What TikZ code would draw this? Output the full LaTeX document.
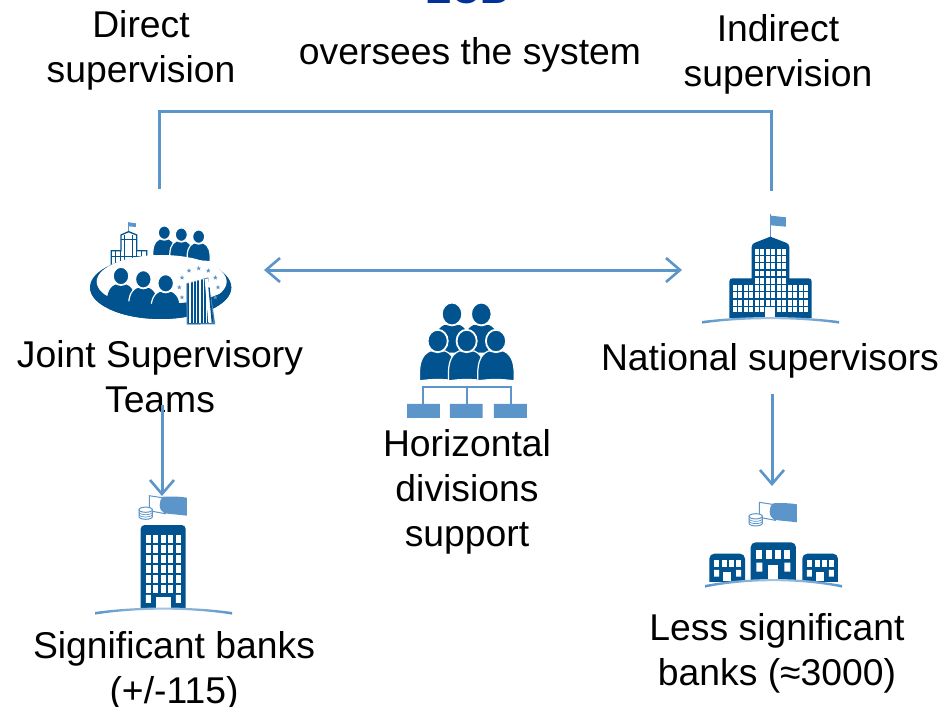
\documentclass[tikz,border=0pt]{standalone}
\usepackage{fontspec}
\setmainfont{Liberation Sans}
\usetikzlibrary{arrows.meta}
\definecolor{dkb}{HTML}{00538F}
\definecolor{ltb}{HTML}{5B95C9}
\definecolor{ecb}{HTML}{003299}
\tikzset{
  lbl/.style={inner sep=0pt,align=center,text=black,font=\fontsize{37.3}{45}\selectfont,anchor=base},
  conn/.style={draw=ltb,line width=3pt},
  arr/.style={conn,-{Straight Barb[length=14pt,width=24pt,line width=2.6pt]}},
  dbl/.style={conn,{Straight Barb[length=14pt,width=24pt,line width=2.6pt]}-{Straight Barb[length=14pt,width=24pt,line width=2.6pt]}},
}
% person: head centre (#1,#2), scale #3
\newcommand\perso[3]{\begin{scope}[shift={(#1,#2)},scale=#3]
 \path[fill=dkb,draw=white,line width=1.2pt] (-19,42) .. controls (-20,26) and (-18,15) .. (-8,10.5) -- (8,10.5) .. controls (18,15) and (20,26) .. (19,42) .. controls (6,40) and (-6,40) .. (-19,42) -- cycle;
 \path[fill=dkb,draw=white,line width=1.8pt] (0,0) ellipse [x radius=10.6,y radius=11.8];
\end{scope}}
\newcommand\ground[4]{\path[left color=ltb,right color=ltb,middle color=ltb!55] (#1,#3) .. controls ({#1+(#2-#1)*.3},{#3-(#3-#4)*1.33}) and ({#2-(#2-#1)*.3},{#3-(#3-#4)*1.33}) .. (#2,#3) -- (#2,#3+2.6) .. controls ({#2-(#2-#1)*.3},{#3-(#3-#4)*1.33+2}) and ({#1+(#2-#1)*.3},{#3-(#3-#4)*1.33+2}) .. (#1,#3+2.6) -- cycle;}
\newcommand\money[2]{\begin{scope}[shift={(#1,#2)}]
 \draw[ltb,line width=1pt,fill=white] (0,0) -- (0,15) -- (16,18) -- (16,2.5) -- cycle;
 \fill[ltb] (14,1) .. controls (24,0.5) and (32,1) .. (37.5,2) -- (37.5,20) .. controls (30,19) and (22,18.5) .. (15,17.5) .. controls (9,15) and (9,4) .. (14,1) -- cycle;
 \begin{scope}[shift={(-3.6,14)}]
 \draw[ltb,line width=1pt,fill=white] (-6.7,0) -- (-6.7,7) arc[start angle=180,end angle=0,x radius=6.7,y radius=2.6] -- (6.7,0);
 \draw[ltb,line width=1pt,fill=white] (0,0) ellipse [x radius=6.7,y radius=2.6];
 \draw[ltb,line width=.7pt] (-6.7,2.4) arc[start angle=180,end angle=0,x radius=6.7,y radius=2.6];
 \draw[ltb,line width=.7pt] (-6.7,4.7) arc[start angle=180,end angle=0,x radius=6.7,y radius=2.6];
 \end{scope}
\end{scope}}
\newcommand\starr[2]{\fill[ltb] (#1+0,#2-2.8) -- (#1+.7,#2-.9) -- (#1+2.7,#2-.9) -- (#1+1.1,#2+.35) -- (#1+1.7,#2+2.3) -- (#1,#2+1.1) -- (#1-1.7,#2+2.3) -- (#1-1.1,#2+.35) -- (#1-2.7,#2-.9) -- (#1-.7,#2-.9) -- cycle;}
\begin{document}
\begin{tikzpicture}[x=1pt,y=-1pt]
\useasboundingbox (0,0) rectangle (943,707);
\fill[white] (0,0) rectangle (943,707);
% anchors for connectors
\coordinate (jstUp) at (159,189);
\coordinate (ctrlA) at (159,111);
\coordinate (ctrlB) at (771,111);
\coordinate (natUp) at (771,191);
\coordinate (jstSide) at (264,270);
\coordinate (natSide) at (682,270);
\coordinate (jstDown) at (162,405);
\coordinate (sigTop) at (162,496);
\coordinate (natDown) at (772,394);
\coordinate (lessTop) at (772,486);
% labels
\node[lbl,text=ecb,font=\bfseries\fontsize{39.5}{45}\selectfont] (ecbT) at (467,3.5) {ECB};
\node[lbl] (over) at (470,64) {oversees the system};
\node[lbl] (direct) at (141,82) {Direct\\supervision};
\node[lbl] (indirect) at (778,86) {Indirect\\supervision};
\node[lbl] (jst) at (160,412) {Joint Supervisory\\Teams};
\node[lbl] (nat) at (770,370) {National supervisors};
\node[lbl] (hor) at (467,546) {Horizontal\\divisions\\support};
\node[lbl] (sig) at (174,703) {Significant banks\\(+/-115)};
\node[lbl] (less) at (777,685) {Less significant\\banks (≈3000)};
% connectors
\draw[conn] (jstUp) -- (ctrlA) -- (ctrlB) -- (natUp);
\draw[dbl] (jstSide) -- (natSide);
\draw[arr] (jstDown) -- (sigTop);
\draw[arr] (natDown) -- (lessTop);
% ===== JST icon
\begin{scope}[shift={(70,200)},scale=.3333]
 % small building
 \draw[ltb,line width=1pt] (176,65) -- (176,95);
 \fill[ltb] (177,67) -- (198,70) -- (198,81) -- (177,79) -- cycle;
 \draw[dkb,line width=1.3pt,fill=white] (124,197) -- (124,152) -- (153,152) -- (153,105) -- (176,95) -- (200,105) -- (200,152) -- (230,152) -- (230,197) -- cycle;
 \draw[dkb,line width=1pt] (153,118) -- (200,118) (124,170) -- (230,170) (153,152) -- (153,197) (200,152) -- (200,197) (138,152) -- (138,197) (216,152) -- (216,197) (165,105) -- (165,197) (188,105) -- (188,197);
 % back persons
 \perso{283}{98}{1.8}
 \perso{334}{104}{1.8}
 \perso{386}{110}{1.8}
 % table
 \fill[dkb] (272,262) ellipse [x radius=212,y radius=95];
 \fill[white] (275,245) ellipse [x radius=195,y radius=80];
 % front persons
 \perso{153}{228}{2.3}
 \perso{220}{238}{2.3}
 \perso{287}{250}{2.3}
 % table front, merging with the bodies
 \fill[dkb] (60,262) arc[start angle=180,end angle=0,x radius=212,y radius=95] .. controls (440,295) and (360,312) .. (272,312) .. controls (190,312) and (105,295) .. (60,262) -- cycle;
 % stars
 \foreach \sx/\sy in {357/212,386/205,415/212,436/233,444/262,436/292,336/233,328/262,336/292}{\begin{scope}[shift={(\sx,\sy)},scale=2.6]\starr{0}{0}\end{scope}}
 % tower
 \fill[ltb] (349,250) -- (415,232) -- (436,373) -- (350,374) -- cycle;
 \fill[dkb] (352,252) -- (414,235) -- (433,370) -- (353,371) -- cycle;
 \foreach \tx in {360,370,380,390,400,410,420}{\draw[white,line width=1.2pt] (\tx,238) -- (\tx,370);}
 \fill[white] (404,238) -- (415,235) -- (431,368) -- (415,368) -- cycle;
 \fill[dkb] (415,262) -- (419,262) -- (431,368) -- (425,368) -- cycle;
\end{scope}
% ===== National supervisor building
\begin{scope}[shift={(690,200)},scale=.3333]
 \draw[ltb,line width=1.6pt] (241,42) -- (241,110);
 \fill[ltb] (243,47) -- (288,52) -- (288,80) -- (243,76) -- cycle;
 \fill[dkb] (118,354) [rounded corners=3pt] -- (118,235) [sharp corners] -- (185,235) [rounded corners=3pt] -- (185,132) [sharp corners] -- (241,110) [rounded corners=3pt] -- (298,132) [sharp corners] -- (298,235) [rounded corners=3pt] -- (365,235) [sharp corners] -- (365,354) -- cycle;
 \foreach \cx in {195,210,228,243,261,276}{\foreach \cy in {148,168,190,212,234}{\fill[white] (\cx,\cy) rectangle +(12,17);}}
 \foreach \cx in {128,143,162,177,195,210,228,243,261,276,295,310,328,343}{\foreach \cy in {255,277,300,320}{\fill[white] (\cx,\cy) rectangle +(12,17);}}
 \fill[white] (225,320) rectangle (255,350);
\end{scope}
\ground{702}{839}{321}{317}
% ===== Horizontal divisions
\begin{scope}[shift={(390,295)},scale=.3333]
 \perso{186}{57}{2.9}
 \perso{274}{57}{2.9}
 \perso{143}{138}{2.85}
 \perso{230}{138}{2.85}
 \perso{318}{138}{2.85}
 \draw[ltb,line width=2pt] (100,327) -- (100,277) -- (362,277) -- (362,327) (231,277) -- (231,327);
 \fill[ltb] (51,327) rectangle (150,369) (180,327) rectangle (278,369) (312,327) rectangle (411,369);
\end{scope}
% ===== Significant bank
\money{149.3}{495.7}
\begin{scope}[shift={(85,480)},scale=.3333]
 \fill[dkb] (167,385) [rounded corners=4pt] -- (167,135) -- (302,135) [sharp corners] -- (302,385) -- cycle;
 \foreach \cx in {183,204,228,249,273}{\foreach \cy in {164,194,224,254,285,315}{\fill[white] (\cx,\cy) rectangle +(15,24);}}
 \fill[white] (183,345) rectangle +(15,24) (273,345) rectangle +(15,24);
 \fill[white] (213,350) rectangle (258,385);
\end{scope}
\ground{95}{232}{612}{607.5}
% ===== Less significant banks
\money{759.3}{502.3}
\begin{scope}[shift={(695,490)},scale=.3333]
 \fill[dkb] (167,272) [rounded corners=5pt] -- (167,157) -- (303,157) [sharp corners] -- (303,272) -- cycle;
 \foreach \cx in {184,212,240,268}{\fill[white] (\cx,180) rectangle +(18,27);}
 \fill[white] (184,218) rectangle +(18,27) (268,218) rectangle +(18,27);
 \fill[white] (218,224) rectangle (250,270);
 \foreach \ox in {0,279}{\begin{scope}[shift={(\ox,0)}]
  \fill[dkb] (43,276) [rounded corners=5pt] -- (43,191) -- (150,191) [sharp corners] -- (150,276) -- cycle;
  \foreach \cx in {57,80,103,123}{\fill[white] (\cx,210) rectangle +(15,20);}
  \fill[white] (57,240) rectangle +(15,20) (123,240) rectangle +(15,20);
  \fill[white] (85,245) rectangle (108,274);
 \end{scope}}
\end{scope}
\ground{705}{842}{585}{579}
\end{tikzpicture}
\end{document}
